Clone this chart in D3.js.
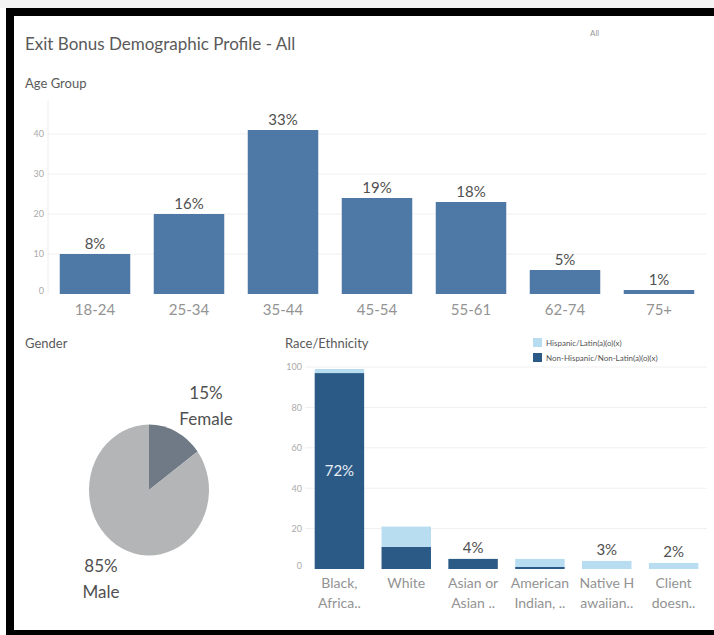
<!DOCTYPE html>
<html>
<head>
<meta charset="utf-8">
<script src="https://cdn.jsdelivr.net/npm/d3@7"></script>
<style>
  body { margin: 0; background: #fff; }
  svg { display: block; font-family: Lato, "Open Sans", sans-serif; }
</style>
</head>
<body>
<div id="board"></div>
<script>
// age group bars
var ageGroups = ["18-24", "25-34", "35-44", "45-54", "55-61", "62-74", "75+"];
var ageCounts = [10, 20, 41, 24, 23, 6, 1];
var ageTicks = [0, 10, 20, 30, 40];

// gender pie
var genders = ["Female", "Male"];
var genderPct = [15, 85];

// race / ethnicity stacked bars
var raceNames = [["Black,", "Africa.."], ["White"], ["Asian or", "Asian .."],
                 ["American", "Indian, .."], ["Native H", "awaiian.."], ["Client", "doesn.."]];
var nonHispanic = [97, 11, 5, 1, 0, 0];
var hispanic = [2, 10, 0, 4, 4, 3];
var raceLabels = ["72%", "", "4%", "", "3%", "2%"];
var raceTicks = [0, 20, 40, 60, 80, 100];
var ethnicities = ["Hispanic/Latin(a)(o)(x)", "Non-Hispanic/Non-Latin(a)(o)(x)"];

var W = 714, H = 635;
var ageColor = "#4e79a7";
var darkBlue = "#2b5a87", lightBlue = "#b8dcf0";
var pieColors = ["#707a86", "#b3b5b6"];

var svg = d3.select("#board").append("svg")
    .attr("width", W).attr("height", H);

// frame
svg.append("rect").attr("x", 0).attr("y", 0).attr("width", W).attr("height", 8).attr("fill", "#f4f4f4");
svg.append("rect").attr("x", 6).attr("y", 8).attr("width", W - 6).attr("height", 8).attr("fill", "#000");
svg.append("rect").attr("x", 6).attr("y", 8).attr("width", 8).attr("height", H - 8).attr("fill", "#000");
svg.append("rect").attr("x", 6).attr("y", 630).attr("width", W - 6).attr("height", 5).attr("fill", "#000");

//titles
svg.append("text").attr("x", 25).attr("y", 50)
    .attr("font-size", 17).attr("fill", "#5a5a5a").text("Exit Bonus Demographic Profile - All");
svg.append("text").attr("x", 590).attr("y", 36)
    .attr("font-size", 8).attr("fill", "#999").text("All");
svg.append("text").attr("x", 25).attr("y", 88)
    .attr("font-size", 13).attr("fill", "#5a5a5a").text("Age Group");
svg.append("text").attr("x", 25).attr("y", 348)
    .attr("font-size", 13).attr("fill", "#5a5a5a").text("Gender");
svg.append("text").attr("x", 285).attr("y", 348)
    .attr("font-size", 13).attr("fill", "#5a5a5a").text("Race/Ethnicity");

// ---------- AGE GROUP ----------
var ageTotal = d3.sum(ageCounts);
var ax = d3.scaleBand().domain(ageGroups).range([48, 706]).paddingInner(0.25).paddingOuter(0.125);
var ay = d3.scaleLinear().domain([0, 47]).range([294, 106]);

var ageG = svg.append("g");
ageG.selectAll("line.grid").data(ageTicks.slice(1)).enter().append("line")
    .attr("x1", 48).attr("x2", 706)
    .attr("y1", function(d){ return ay(d); }).attr("y2", function(d){ return ay(d); })
    .attr("stroke", "#f0f0f0");
ageG.append("line").attr("x1", 48).attr("x2", 48).attr("y1", 100).attr("y2", 294).attr("stroke", "#eeeeee");

var ageAxis = ageG.append("g").attr("transform", "translate(44,0)")
    .call(d3.axisLeft(ay).tickValues(ageTicks).tickSize(0).tickPadding(0));
ageAxis.select(".domain").remove();
ageAxis.selectAll("text").attr("font-size", 9).attr("fill", "#aaa").attr("font-family", "Lato, sans-serif")
    .attr("dy", function(d){ return d == 0 ? "-0.1em" : "0.32em"; });

ageG.selectAll("rect.bar").data(ageCounts).enter().append("rect")
    .attr("x", function(d, i){ return ax(ageGroups[i]); })
    .attr("y", function(d){ return ay(d); })
    .attr("width", ax.bandwidth())
    .attr("height", function(d){ return ay(0) - ay(d); })
    .attr("fill", ageColor);

ageG.selectAll("text.pct").data(ageCounts).enter().append("text")
    .attr("x", function(d, i){ return ax(ageGroups[i]) + ax.bandwidth()/2; })
    .attr("y", function(d){ return ay(d) - 5; })
    .attr("text-anchor", "middle").attr("font-size", 15).attr("fill", "#505050")
    .text(function(d){ return Math.round(d / ageTotal * 100) + "%"; });

var ageX = ageG.append("g").attr("transform", "translate(0,300)")
    .call(d3.axisBottom(ax).tickSize(0).tickPadding(0));
ageX.select(".domain").remove();
ageX.selectAll("text").attr("font-size", 15).attr("fill", "#939393").attr("font-family", "Lato, sans-serif")
    .attr("dy", "1em");

// ---------- GENDER ----------
var pie = d3.pie().sort(null)(genderPct);
var arc = d3.arc().innerRadius(0).outerRadius(60);
var pieG = svg.append("g").attr("transform", "translate(149,490) scale(1,1.09)");
pieG.selectAll("path").data(pie).enter().append("path")
    .attr("d", arc)
    .attr("fill", function(d, i){ return pieColors[i]; });

var pieLabelPos = [[206, 399], [101, 572]];
genders.forEach(function(g, i){
    var t = svg.append("text").attr("text-anchor", "middle")
        .attr("font-size", 17).attr("fill", "#505050");
    t.append("tspan").attr("x", pieLabelPos[i][0]).attr("y", pieLabelPos[i][1]).text(genderPct[i] + "%");
    t.append("tspan").attr("x", pieLabelPos[i][0]).attr("y", pieLabelPos[i][1] + 26).text(g);
});

// ---------- RACE / ETHNICITY ----------
var raceKeys = raceNames.map(function(d){ return d.join(" "); });
var rx = d3.scaleBand().domain(raceKeys).range([306, 707]).paddingInner(0.26).paddingOuter(0.13);
var ry = d3.scaleLinear().domain([0, 100]).range([569, 367]);

var raceG = svg.append("g");
raceG.selectAll("line.grid").data(raceTicks.slice(1)).enter().append("line")
    .attr("x1", 305).attr("x2", 707)
    .attr("y1", function(d){ return ry(d); }).attr("y2", function(d){ return ry(d); })
    .attr("stroke", "#f0f0f0");

var raceAxis = raceG.append("g").attr("transform", "translate(302,0)")
    .call(d3.axisLeft(ry).tickValues(raceTicks).tickSize(0).tickPadding(0));
raceAxis.select(".domain").remove();
raceAxis.selectAll("text").attr("font-size", 9).attr("fill", "#aaa").attr("font-family", "Lato, sans-serif")
    .attr("dy", function(d){ return d == 0 ? "-0.1em" : "0.32em"; });

var stackData = raceKeys.map(function(k, i){
    return {key: k, non: nonHispanic[i], his: hispanic[i]};
});
var series = d3.stack().keys(["non", "his"])(stackData);
var stackColors = {non: darkBlue, his: lightBlue};

raceG.selectAll("g.series").data(series).enter().append("g")
    .attr("fill", function(s){ return stackColors[s.key]; })
    .selectAll("rect").data(function(s){ return s; }).enter().append("rect")
    .attr("x", function(d){ return rx(d.data.key); })
    .attr("y", function(d){ return ry(d[1]); })
    .attr("width", rx.bandwidth())
    .attr("height", function(d){ return ry(d[0]) - ry(d[1]); });

raceG.selectAll("text.pct").data(stackData).enter().append("text")
    .attr("x", function(d){ return rx(d.key) + rx.bandwidth()/2; })
    .attr("y", function(d){
        if(d.non > 40) return ry(d.non/2) + 5;
        return ry(d.non + d.his) - 6;
    })
    .attr("text-anchor", "middle").attr("font-size", 15)
    .attr("fill", function(d){ return d.non > 40 ? "#e8eef5" : "#505050"; })
    .text(function(d, i){ return raceLabels[i]; });

raceNames.forEach(function(lines, i){
    var t = raceG.append("text").attr("text-anchor", "middle")
        .attr("font-size", 14).attr("fill", "#939393");
    lines.forEach(function(l, j){
        t.append("tspan").attr("x", rx(raceKeys[i]) + rx.bandwidth()/2)
            .attr("y", 588 + j*20).text(l);
    });
});

// legend
var legend = svg.append("g").attr("transform", "translate(533,338)");
ethnicities.forEach(function(e, i){
    legend.append("rect").attr("x", 0).attr("y", i*15).attr("width", 9).attr("height", 9)
        .attr("fill", i == 0 ? lightBlue : darkBlue);
    legend.append("text").attr("x", 13).attr("y", i*15 + 8)
        .attr("font-size", 8).attr("fill", "#555").text(e);
});
</script>
</body>
</html>
